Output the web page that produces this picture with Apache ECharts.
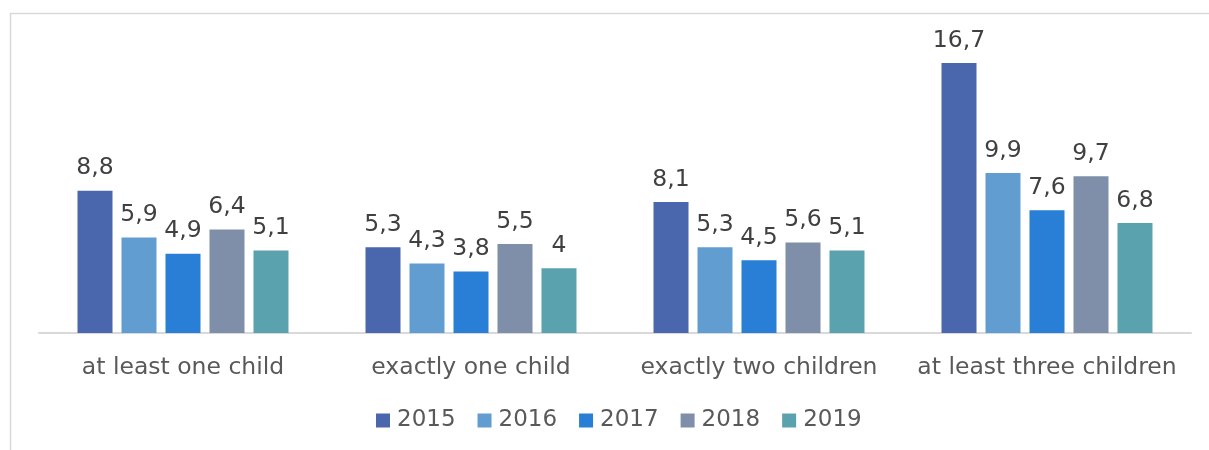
<!DOCTYPE html>
<html>
<head>
<meta charset="utf-8">
<script src="https://cdn.jsdelivr.net/npm/echarts@6/dist/echarts.min.js"></script>
<style>
  html, body { margin: 0; padding: 0; background: #fff; }
  #chart { width: 1209px; height: 450px; }
</style>
</head>
<body>
<div id="chart"></div>
<script>
// Household groups by number of children
const categories = ['at least one child', 'exactly one child', 'exactly two children', 'at least three children'];
const years = ['2015', '2016', '2017', '2018', '2019'];
const values2015 = [8.8, 5.3, 8.1, 16.7];
const values2016 = [5.9, 4.3, 5.3, 9.9];
const values2017 = [4.9, 3.8, 4.5, 7.6];
const values2018 = [6.4, 5.5, 5.6, 9.7];
const values2019 = [5.1, 4.0, 5.1, 6.8];
const yearColors = ['#4A66AC', '#629DD1', '#297FD5', '#7F8FA9', '#5AA2AE'];

const seriesValues = [values2015, values2016, values2017, values2018, values2019];
const font = 'DejaVu Sans';

const chart = echarts.init(document.getElementById('chart'));
chart.setOption({
  animation: false,
  backgroundColor: '#ffffff',
  color: yearColors,
  graphic: [{
    type: 'rect',
    silent: true,
    z: -1,
    shape: { x: 10.5, y: 13.5, width: 1400, height: 600 },
    style: { fill: 'none', stroke: '#d9d9d9', lineWidth: 1.5 }
  }],
  grid: { left: 39, right: 18, top: 42, bottom: 117 },
  legend: {
    left: 376,
    top: 409,
    padding: 0,
    itemWidth: 14,
    itemHeight: 14,
    itemGap: 22,
    icon: 'rect',
    textStyle: { color: '#595959', fontSize: 23, fontFamily: font, padding: [0, 0, 0, 2] }
  },
  xAxis: {
    type: 'category',
    data: categories,
    axisLine: { lineStyle: { color: '#d9d9d9', width: 2 } },
    axisTick: { show: false },
    axisLabel: { interval: 0, color: '#595959', fontSize: 23.5, fontFamily: font, margin: 23 }
  },
  yAxis: {
    type: 'value',
    min: 0,
    max: 18,
    show: false,
    splitLine: { show: false }
  },
  series: years.map((y, i) => ({
    name: y,
    type: 'bar',
    data: seriesValues[i],
    barWidth: 35,
    barGap: '25.7%',
    label: {
      show: true,
      position: 'top',
      distance: 10.5,
      color: '#404040',
      fontSize: 23.5,
      fontFamily: font,
      formatter: p => String(p.value).replace('.', ',')
    }
  }))
});
</script>
</body>
</html>
